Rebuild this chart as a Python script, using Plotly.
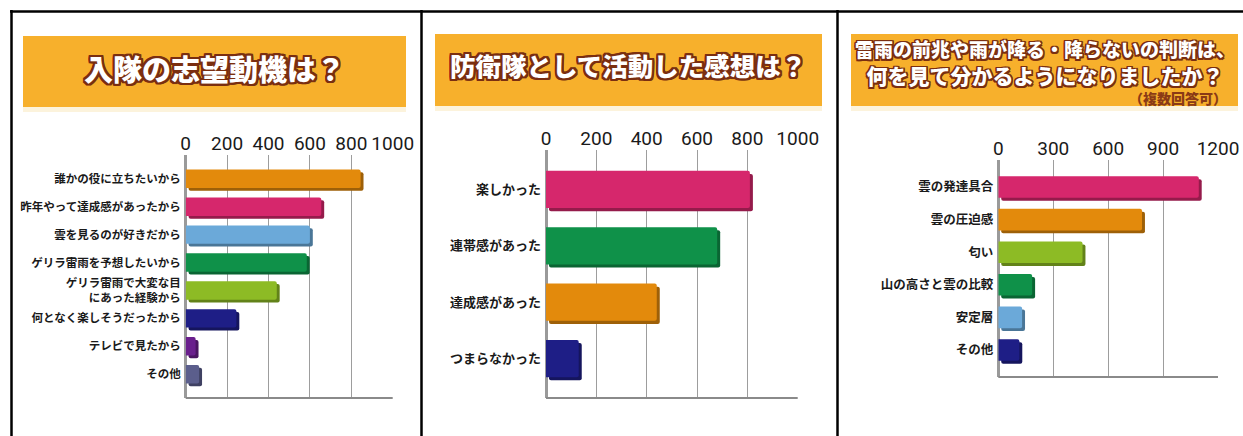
import plotly.graph_objects as go

W, H = 1243, 436

# ---------------- data ----------------
p1_title = "入隊の志望動機は？"
p1_cats = ["誰かの役に立ちたいから", "昨年やって達成感があったから", "雲を見るのが好きだから",
           "ゲリラ雷雨を予想したいから", "ゲリラ雷雨で大変な目<br>にあった経験から",
           "何となく楽しそうだったから", "テレビで見たから", "その他"]
p1_vals = [845, 655, 600, 585, 440, 245, 48, 65]
p1_colors = ["#E38A0C", "#D6276C", "#6BA9D9", "#0F9149", "#8DBB25", "#1E1E86", "#6A1F8D", "#5B5E8C"]
p1_ticks = [0, 200, 400, 600, 800, 1000]

p2_title = "防衛隊として活動した感想は？"
p2_cats = ["楽しかった", "連帯感があった", "達成感があった", "つまらなかった"]
p2_vals = [810, 680, 440, 130]
p2_colors = ["#D6276C", "#0F9149", "#E38A0C", "#1E1E86"]
p2_ticks = [0, 200, 400, 600, 800, 1000]

p3_title1 = "雷雨の前兆や雨が降る・降らないの判断は、"
p3_title2 = "何を見て分かるようになりましたか？"
p3_note = "（複数回答可）"
p3_cats = ["雲の発達具合", "雲の圧迫感", "匂い", "山の高さと雲の比較", "安定層", "その他"]
p3_vals = [1095, 785, 460, 185, 130, 115]
p3_colors = ["#D6276C", "#E38A0C", "#8DBB25", "#0F9149", "#6BA9D9", "#1E1E86"]
p3_ticks = [0, 300, 600, 900, 1200]


def darker(hexc, f=0.7):
    h = hexc.lstrip("#")
    r, g, b = int(h[0:2], 16), int(h[2:4], 16), int(h[4:6], 16)
    return "#%02x%02x%02x" % (int(r * f), int(g * f), int(b * f))


def px_x(x):
    return x / W


def px_y(y):
    return 1 - y / H


fig = go.Figure()

panels = [
    dict(cats=p1_cats, vals=p1_vals, colors=p1_colors, ticks=p1_ticks,
         xd=(185.7, 392.7), yd=(155, 398), pad=0.85, sx=14, sy=0.10, lab=11.5),
    dict(cats=p2_cats, vals=p2_vals, colors=p2_colors, ticks=p2_ticks,
         xd=(546, 797.7), yd=(150, 398), pad=0.70, sx=12, sy=0.055, lab=13),
    dict(cats=p3_cats, vals=p3_vals, colors=p3_colors, ticks=p3_ticks,
         xd=(998.3, 1218), yd=(160, 377), pad=0.83, sx=16, sy=0.09, lab=12.5),
]

BW = 0.66
for i, p in enumerate(panels):
    k = "" if i == 0 else str(i + 1)
    xa, ya = "x" + k, "y" + k
    n = len(p["cats"])
    # shadow (3D edge)
    fig.add_trace(go.Bar(
        y=p["cats"], x=p["vals"], base=[p["sx"]] * n, orientation="h",
        xaxis=xa, yaxis=ya, width=BW, offset=-BW / 2 + p["sy"],
        marker=dict(color=[darker(c) for c in p["colors"]], line=dict(width=0), cornerradius=2),
        showlegend=False, hoverinfo="skip"))
    fig.add_trace(go.Bar(
        y=p["cats"], x=p["vals"], orientation="h",
        xaxis=xa, yaxis=ya, width=BW, offset=-BW / 2,
        marker=dict(color=p["colors"], line=dict(width=0), cornerradius=2),
        showlegend=False))
    xkey = "xaxis" + k
    ykey = "yaxis" + k
    fig.layout[xkey] = dict(
        domain=[px_x(p["xd"][0]), px_x(p["xd"][1])], anchor=ya, side="top",
        range=[0, p["ticks"][-1]], tickvals=p["ticks"], showgrid=True,
        gridcolor="#9d9d9d", gridwidth=1, zeroline=True, zerolinecolor="#9a9a9a",
        zerolinewidth=2.5, showline=False, ticks="", automargin=False,
        tickfont=dict(family="Liberation Sans Narrow, Roboto, sans-serif", size=19, color="#1a1a1a"),
        fixedrange=True)
    fig.layout[ykey] = dict(
        domain=[px_y(p["yd"][1]), px_y(p["yd"][0])], anchor=xa,
        type="category", categoryorder="array", categoryarray=p["cats"],
        range=[n - 1 + p["pad"], -p["pad"]], showgrid=False, zeroline=False,
        showline=False, ticks="", ticklabelstandoff=4, automargin=False,
        tickfont=dict(family="Noto Sans CJK JP", size=p["lab"], color="#1a1a1a", weight="bold"),
        fixedrange=True)
    # bottom axis line
    fig.add_shape(type="line", xref=xa + " domain", yref=ya + " domain",
                  x0=0, x1=1, y0=0, y1=0, line=dict(color="#8a8a8a", width=2))

# banners
banners = [(23, 406, 36, 107), (435, 822, 34, 106), (851, 1238, 34, 106)]
for x0, x1, y0, y1 in banners:
    fig.add_shape(type="rect", xref="paper", yref="paper",
                  x0=px_x(x0), x1=px_x(x1), y0=px_y(y1), y1=px_y(y0),
                  line=dict(width=0), fillcolor="#F7B02C", layer="below")
    fig.add_shape(type="rect", xref="paper", yref="paper",
                  x0=px_x(x0), x1=px_x(x1), y0=px_y(y1 + 5), y1=px_y(y1),
                  line=dict(width=0), fillcolor="#FCF3DC", layer="below")

outline = ", ".join(f"{dx}px {dy}px 0 #7a2e10" for dx, dy in
                    [(-2, 0), (2, 0), (0, -2), (0, 2), (-2, -2), (2, -2), (-2, 2), (2, 2),
                     (-1, -2), (1, -2), (-1, 2), (1, 2), (-2, -1), (2, -1), (-2, 1), (2, 1)])
outline_s = ", ".join(f"{dx}px {dy}px 0 #7a2e10" for dx, dy in
                      [(-1.5, 0), (1.5, 0), (0, -1.5), (0, 1.5), (-1.5, -1.5), (1.5, -1.5),
                       (-1.5, 1.5), (1.5, 1.5)])
TF = "Noto Sans CJK JP"


def title(text, x, y, size, sh=outline, xanchor="center", color="white"):
    fig.add_annotation(text=text, xref="paper", yref="paper", x=px_x(x), y=px_y(y),
                       xanchor=xanchor, yanchor="middle", showarrow=False,
                       font=dict(family=TF, size=size, color=color, weight=900, shadow=sh))


title(p1_title, 214.5, 68, 29)
title(p2_title, 628, 64, 25.5)
title(f'<span style="font-size:19px">{p3_title1}</span>' + "<br>" + p3_title2,
      1045, 62, 21, sh=outline_s)
title(p3_note, 1229, 98, 14, sh="none", xanchor="right", color="#8a3a16")

# frame lines
frame = [(10, 11.5, W, 11.5), (11.5, 10, 11.5, H), (421.5, 10, 421.5, H), (837.5, 10, 837.5, H)]
for x0, y0, x1, y1 in frame:
    fig.add_shape(type="line", xref="paper", yref="paper",
                  x0=px_x(x0), y0=px_y(y0), x1=px_x(x1), y1=px_y(y1),
                  line=dict(color="black", width=2.5))

fig.update_layout(width=W, height=H, margin=dict(l=0, r=0, t=0, b=0, autoexpand=False),
                  paper_bgcolor="white", plot_bgcolor="rgba(0,0,0,0)",
                  barmode="overlay", showlegend=False)

fig.write_html("out.html", config={"displayModeBar": False})
